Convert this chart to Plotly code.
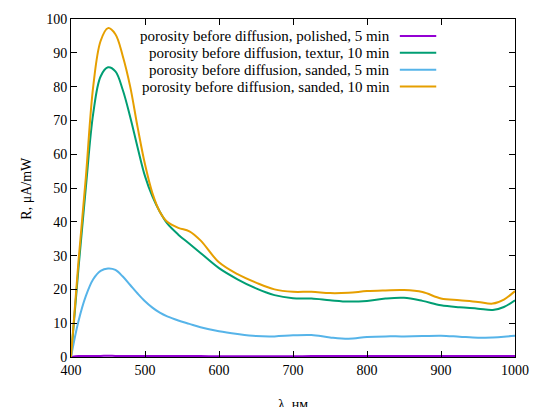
import plotly.graph_objects as go

wavelength = [400, 410, 420, 430, 440, 450, 460, 470, 480, 490, 500, 510, 520, 530,
              545, 560, 575, 600, 625, 650, 675, 700, 725, 750, 775, 800, 825, 850,
              875, 900, 925, 950, 970, 985, 1000]

polished_5 = [0.0, 0.3, 0.3, 0.3, 0.3, 0.4, 0.3, 0.3, 0.3, 0.3, 0.3, 0.3, 0.3, 0.3,
              0.3, 0.3, 0.3, 0.2, 0.2, 0.2, 0.2, 0.2, 0.3, 0.3, 0.3, 0.3, 0.3, 0.3,
              0.3, 0.3, 0.3, 0.3, 0.3, 0.3, 0.3]

textur_10 = [0, 26, 50, 72, 83, 85.7, 84.5, 79, 71, 62, 53.5, 47.5, 43, 39.5,
             36.2, 33.5, 30.8, 26.3, 23, 20.3, 18.3, 17.4, 17.3, 16.8, 16.4, 16.6, 17.3, 17.5,
             16.6, 15.3, 14.7, 14.3, 13.9, 14.8, 16.8]

sanded_5 = [0, 10.5, 18, 23, 25.5, 26.2, 25.8, 23.8, 21.3, 18.8, 16.5, 14.6, 13.1, 12,
            10.8, 9.8, 8.8, 7.6, 6.8, 6.2, 6.1, 6.4, 6.5, 5.8, 5.4, 5.9, 6.1, 6.1,
            6.2, 6.3, 6.0, 5.7, 5.8, 6.0, 6.3]

sanded_10 = [0, 28, 53, 80, 93.5, 97.3, 95.5, 89, 80, 68, 57, 48.5, 43, 40,
             38.2, 37.2, 34.5, 28, 24.5, 22, 20, 19.3, 19.3, 18.9, 19, 19.5, 19.7, 19.8,
             19.2, 17.3, 16.8, 16.3, 15.8, 17, 19.5]

series_names = [
    "porosity before diffusion, polished, 5 min",
    "porosity before diffusion, textur, 10 min",
    "porosity before diffusion, sanded, 5 min",
    "porosity before diffusion, sanded, 10 min",
]
series_values = [polished_5, textur_10, sanded_5, sanded_10]
colors = ["#9400d3", "#009e73", "#56b4e9", "#e69f00"]

x_ticks = [400, 500, 600, 700, 800, 900, 1000]
y_ticks = [0, 10, 20, 30, 40, 50, 60, 70, 80, 90, 100]

FONT = "Liberation Serif"

fig = go.Figure()
for name, vals, col in zip(series_names, series_values, colors):
    fig.add_trace(go.Scatter(x=wavelength, y=vals, mode="lines", name=name,
                             line=dict(color=col, width=2, shape="spline", smoothing=1.0),
                             showlegend=False))

# manual legend: text right-aligned, sample line to the right (gnuplot style)
legend_y = [0.95, 0.90, 0.85, 0.80]
for name, col, ly in zip(series_names, colors, legend_y):
    fig.add_annotation(x=0.7228, y=ly, xref="paper", yref="paper", text=name,
                       showarrow=False, xanchor="right", yanchor="middle",
                       font=dict(family=FONT, size=15, color="black"))
    fig.add_shape(type="line", xref="paper", yref="paper", x0=0.7406, x1=0.8226,
                  y0=ly, y1=ly, line=dict(color=col, width=2))

fig.add_annotation(x=0.5, y=-0.141, xref="paper", yref="paper", text="λ, нм",
                   showarrow=False, xanchor="center", yanchor="middle",
                   font=dict(family=FONT, size=14, color="black"))
fig.add_annotation(x=-0.102, y=0.5, xref="paper", yref="paper", text="R, μA/mW",
                   showarrow=False, xanchor="center", yanchor="middle", textangle=-90,
                   font=dict(family=FONT, size=14, color="black"))

axis_common = dict(showgrid=False, zeroline=False, showline=True, linecolor="black",
                   linewidth=1, ticks="inside", ticklen=6, tickcolor="black",
                   mirror="ticks", tickfont=dict(family=FONT, size=14, color="black"))

fig.update_xaxes(range=[400, 1000], tickvals=x_ticks, ticktext=[str(v) for v in x_ticks],
                 **axis_common)
fig.update_yaxes(range=[0, 100], tickvals=y_ticks, ticktext=[str(v) for v in y_ticks],
                 **axis_common)

fig.update_layout(width=541, height=407, margin=dict(l=71, r=19, t=17, b=50),
                  plot_bgcolor="white", paper_bgcolor="white",
                  font=dict(family=FONT, size=14, color="black"))

fig.write_html("out.html", config={"responsive": False})
